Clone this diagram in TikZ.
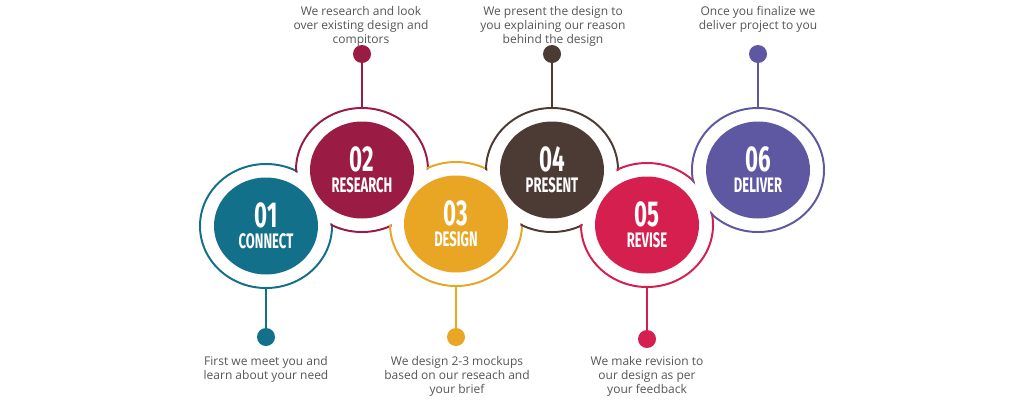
\documentclass[tikz,border=0pt]{standalone}
\usepackage{fontspec}
\setmainfont{Open Sans}
\newfontfamily\numfont[FakeStretch=0.62]{Fira Sans}
\usetikzlibrary{shapes.geometric}
\definecolor{col1}{HTML}{13708A}
\definecolor{col2}{HTML}{9A1B44}
\definecolor{col3}{HTML}{E9A624}
\definecolor{col4}{HTML}{4B3B34}
\definecolor{col5}{HTML}{D51F4E}
\definecolor{col6}{HTML}{5D58A1}
\definecolor{txt}{HTML}{555555}
\begin{document}
\begin{tikzpicture}[x=1pt,y=-1pt,
  ring/.style={ellipse,draw=#1,line width=2pt,minimum width=132pt,minimum height=124pt,inner sep=0pt},
  wipe/.style={ellipse,fill=white,minimum width=129pt,minimum height=121pt,inner sep=0pt},
  disc/.style={ellipse,fill=#1,minimum width=104pt,minimum height=97pt,inner sep=0pt},
  num/.style={text=white,font=\numfont\bfseries\fontsize{36}{36}\selectfont,text height=24pt,text depth=0pt,inner sep=0pt},
  word/.style={text=white,font=\numfont\bfseries\fontsize{21}{21}\selectfont,text height=14pt,text depth=0pt,inner sep=0pt},
  dot/.style={circle,fill=#1,minimum size=18pt,inner sep=0pt},
  stem/.style={draw=#1,line width=2.2pt},
  info/.style={text=txt,font=\fontsize{12}{14}\selectfont,align=center,inner sep=0pt}]
\useasboundingbox (0,0) rectangle (1020,400);
\foreach \i/\x/\y in {1/266/226,2/362/170,3/456/224,4/552/170,5/647/225,6/758/170}
  \node[ring=col\i] (r\i) at (\x,\y) {};
\foreach \i/\x/\y in {1/266/226,2/362/170,3/456/224,4/552/170,5/647/225,6/758/170}
  \node[wipe] at (\x,\y) {};
\foreach \i/\x/\y/\w in {1/266/226/CONNECT,2/362/170/RESEARCH,3/456/224/DESIGN,4/552/170/PRESENT,5/647/225/REVISE,6/758/170/DELIVER}{
  \node[disc=col\i] (s\i) at (\x,\y) {};
  \node[num] (n\i) at ([yshift=11pt]s\i.center) {0\i};
  \node[word] (w\i) at ([yshift=-15pt]s\i.center) {\w};
}
\node[dot=col1] (d1) at (266,337) {};
\node[dot=col2] (d2) at (362,54) {};
\node[dot=col3] (d3) at (456,337) {};
\node[dot=col4] (d4) at (552,54) {};
\node[dot=col5] (d5) at (647,339) {};
\node[dot=col6] (d6) at (758,54) {};
\foreach \i in {1,...,6} \draw[stem=col\i] (r\i) -- (d\i);
\node[info,anchor=north] (t1) at (266,356) {First we meet you and\\learn about your need};
\node[info,anchor=north] (t2) at (361,6) {We research and look\\over existing design and\\compitors};
\node[info,anchor=north] (t3) at (457,356) {We design 2-3 mockups\\based on our reseach and\\your brief};
\node[info,anchor=north] (t4) at (553,6) {We present the design to\\you explaining our reason\\behind the design};
\node[info,anchor=north] (t5) at (647,356) {We make revision to\\our design as per\\your feedback};
\node[info,anchor=north] (t6) at (758,6) {Once you finalize we\\deliver project to you};
\end{tikzpicture}
\end{document}
